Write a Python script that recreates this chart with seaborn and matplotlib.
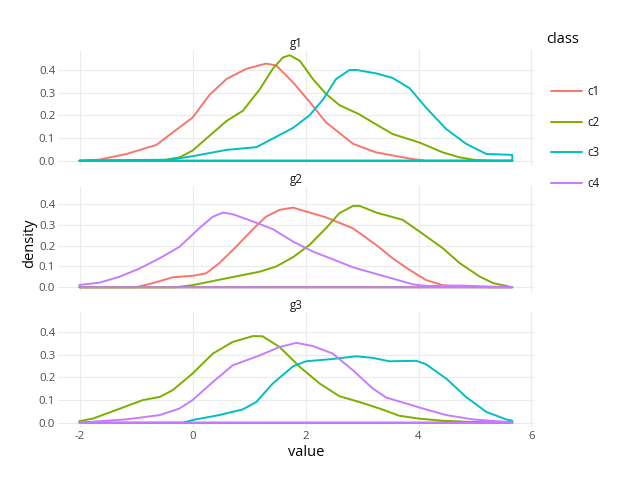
import numpy as np
import pandas as pd
import seaborn as sns
import matplotlib.pyplot as plt
from matplotlib.lines import Line2D

# density outlines (x = value, y = density)
g1_c1_x = [-2, -1.65, -1.17, -0.64, -0.35, 0, 0.3, 0.6, 0.95, 1.3, 1.48, 1.78, 2.07, 2.36, 2.84, 3.25, 3.84, 4.13, 5.66]
g1_c1_y = [0, 0.005, 0.03, 0.07, 0.125, 0.19, 0.29, 0.36, 0.405, 0.428, 0.42, 0.345, 0.26, 0.17, 0.075, 0.037, 0.01, 0, 0]
g1_c2_x = [-2, -0.58, -0.23, 0, 0.3, 0.6, 0.89, 1.19, 1.42, 1.6, 1.72, 1.9, 2.13, 2.36, 2.6, 2.95, 3.25, 3.54, 4.02, 4.43, 4.73, 5.02, 5.3, 5.66]
g1_c2_y = [0, 0, 0.015, 0.045, 0.11, 0.175, 0.22, 0.315, 0.405, 0.455, 0.465, 0.44, 0.36, 0.295, 0.245, 0.205, 0.16, 0.118, 0.08, 0.037, 0.015, 0.003, 0, 0]
g1_c3_x = [-2, -0.4, 0, 0.6, 1.13, 1.36, 1.78, 2.07, 2.31, 2.54, 2.78, 2.9, 3.25, 3.54, 3.84, 4.13, 4.49, 4.84, 5.2, 5.66]
g1_c3_y = [0, 0.005, 0.02, 0.048, 0.06, 0.09, 0.145, 0.2, 0.27, 0.36, 0.4, 0.4, 0.385, 0.365, 0.32, 0.235, 0.14, 0.075, 0.03, 0.026]

g2_c1_x = [-2, -1.0, -0.7, -0.35, 0, 0.24, 0.47, 0.77, 1.07, 1.3, 1.54, 1.78, 2.01, 2.36, 2.84, 3.25, 3.54, 3.84, 4.13, 4.43, 4.73, 5.2, 5.66]
g2_c1_y = [0, 0, 0.02, 0.048, 0.055, 0.067, 0.115, 0.195, 0.28, 0.34, 0.373, 0.384, 0.365, 0.337, 0.284, 0.204, 0.14, 0.084, 0.035, 0.01, 0.003, 0, 0]
g2_c2_x = [-2, -0.3, 0, 0.6, 1.19, 1.48, 1.78, 2.07, 2.36, 2.6, 2.84, 2.96, 3.25, 3.72, 4.02, 4.43, 4.73, 5.08, 5.32, 5.66]
g2_c2_y = [0, 0, 0.01, 0.043, 0.075, 0.1, 0.145, 0.204, 0.284, 0.357, 0.392, 0.392, 0.36, 0.325, 0.268, 0.188, 0.116, 0.052, 0.02, 0]
g2_c4_x = [-2, -1.65, -1.3, -0.94, -0.58, -0.23, 0.12, 0.36, 0.54, 0.71, 1.07, 1.42, 1.78, 2.13, 2.48, 2.84, 3.25, 3.54, 3.9, 4.13, 4.73, 5.32, 5.66]
g2_c4_y = [0.011, 0.022, 0.05, 0.09, 0.14, 0.195, 0.285, 0.34, 0.36, 0.352, 0.317, 0.28, 0.22, 0.172, 0.135, 0.096, 0.064, 0.042, 0.014, 0.006, 0.008, 0.003, 0]

g3_c2_x = [-2, -1.76, -1.41, -0.88, -0.58, -0.35, 0, 0.36, 0.71, 1.07, 1.24, 1.54, 1.9, 2.25, 2.6, 2.95, 3.31, 3.66, 4.02, 4.43, 5.02, 5.66]
g3_c2_y = [0.007, 0.019, 0.051, 0.1, 0.114, 0.144, 0.217, 0.305, 0.356, 0.382, 0.381, 0.334, 0.246, 0.173, 0.117, 0.092, 0.063, 0.031, 0.018, 0.009, 0.003, 0]
g3_c3_x = [-2, -0.17, 0, 0.47, 0.89, 1.13, 1.42, 1.78, 2.01, 2.48, 2.9, 3.19, 3.48, 3.96, 4.13, 4.49, 4.84, 5.2, 5.55, 5.66]
g3_c3_y = [0, 0, 0.012, 0.034, 0.059, 0.092, 0.173, 0.249, 0.271, 0.281, 0.293, 0.286, 0.271, 0.273, 0.258, 0.195, 0.114, 0.048, 0.015, 0.009]
g3_c4_x = [-2, -1.17, -0.58, -0.23, 0, 0.36, 0.71, 1.19, 1.54, 1.84, 2.13, 2.48, 2.84, 3.19, 3.43, 3.78, 4.13, 4.49, 4.96, 5.66]
g3_c4_y = [0.001, 0.015, 0.034, 0.063, 0.1, 0.18, 0.253, 0.297, 0.334, 0.352, 0.338, 0.305, 0.231, 0.151, 0.111, 0.085, 0.059, 0.034, 0.015, 0.002]

groups = ['g1', 'g2', 'g3']
classes = ['c1', 'c2', 'c3', 'c4']
class_colors = ['#F8766D', '#7CAE00', '#00BFC4', '#C77CFF']
x_ticks = [-2, 0, 2, 4, 6]
y_ticks = [0.0, 0.1, 0.2, 0.3, 0.4]

curves = {
    ('g1', 'c1'): (g1_c1_x, g1_c1_y), ('g1', 'c2'): (g1_c2_x, g1_c2_y), ('g1', 'c3'): (g1_c3_x, g1_c3_y),
    ('g2', 'c1'): (g2_c1_x, g2_c1_y), ('g2', 'c2'): (g2_c2_x, g2_c2_y), ('g2', 'c4'): (g2_c4_x, g2_c4_y),
    ('g3', 'c2'): (g3_c2_x, g3_c2_y), ('g3', 'c3'): (g3_c3_x, g3_c3_y), ('g3', 'c4'): (g3_c4_x, g3_c4_y),
}

# each density is drawn as a closed outline (curve, drop to zero, back along the base)
rows = []
for (g, c), (xs, ys) in curves.items():
    px = list(xs) + [xs[-1], xs[0], xs[0]]
    py = list(ys) + [0, 0, ys[0]]
    for x, y in zip(px, py):
        rows.append({'group': g, 'class': c, 'value': x, 'density': y})
df = pd.DataFrame(rows)

sns.set_theme(style='white')
plt.rcParams['font.family'] = ['Open Sans', 'DejaVu Sans']
palette = dict(zip(classes, class_colors))

fig = plt.figure(figsize=(6.23, 4.82), dpi=100)
# panel boxes in figure fractions (left, bottom, width, height)
boxes = [(0.093, 0.6556, 0.764, 0.2407),
         (0.093, 0.3942, 0.764, 0.2199),
         (0.093, 0.112, 0.764, 0.2407)]

for idx, g in enumerate(groups):
    ax = fig.add_axes(boxes[idx])
    sub = df[df['group'] == g]
    order = [c for c in classes if c in sub['class'].unique()]
    sns.lineplot(data=sub, x='value', y='density', hue='class', hue_order=order,
                 palette=palette, sort=False, estimator=None, linewidth=1.4,
                 legend=False, ax=ax, solid_joinstyle='round')
    ax.set_xlim(-2.383, 6.043)
    ax.set_ylim(-0.023, 0.488)
    ax.set_xticks(x_ticks)
    ax.set_yticks(y_ticks)
    ax.set_yticklabels([f'{v:.1f}' for v in y_ticks])
    ax.grid(True, color='#ebebeb', linewidth=0.8)
    ax.set_axisbelow(True)
    for s in ax.spines.values():
        s.set_visible(False)
    ax.tick_params(length=0, pad=2, labelsize=8.2, labelcolor='#4d4d4d')
    ax.set_xlabel('')
    ax.set_ylabel('')
    ax.set_title(g, fontsize=8.4, color='#1a1a1a', pad=2)
    if idx < 2:
        ax.set_xticklabels([])
    else:
        ax.set_xticklabels([str(t) for t in x_ticks])

fig.text(0.491, 0.062, 'value', ha='center', va='center', fontsize=10.5, color='black')
fig.text(0.047, 0.496, 'density', ha='center', va='center', rotation=90, fontsize=10.5, color='black')

handles = [Line2D([0], [0], color=palette[c], linewidth=1.4) for c in classes]
fig.text(0.877, 0.918, 'class', ha='left', va='center', fontsize=10.5, color='black')
fig.legend(handles, classes, loc='upper left', bbox_to_anchor=(0.868, 0.845),
           frameon=False, fontsize=8.4, handlelength=2.6, labelspacing=1.5,
           handletextpad=0.5, labelcolor='#1a1a1a')

fig.savefig('out.png', dpi=100)
